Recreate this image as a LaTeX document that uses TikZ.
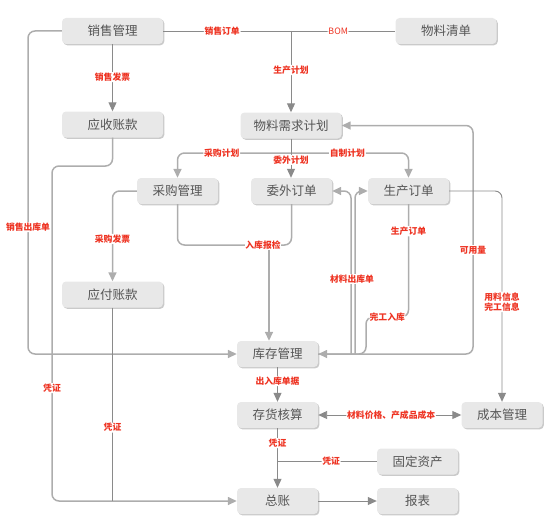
\documentclass[tikz,border=0pt]{standalone}
\usepackage{fontspec}
\setmainfont{Noto Sans CJK SC}
\usetikzlibrary{arrows.meta,shadows}
\definecolor{boxfill}{HTML}{E8E8E8}
\definecolor{boxtext}{HTML}{555555}
\definecolor{lnk}{HTML}{8A8A8A}
\definecolor{lnkl}{HTML}{ADADAD}
\definecolor{lblred}{HTML}{EE3322}
\begin{document}
\begin{tikzpicture}[x=1pt,y=-1pt,
  box/.style={rectangle, rounded corners=4pt, fill=boxfill, minimum width=101pt, minimum height=26pt, inner sep=0pt, text=boxtext, font=\fontsize{12.5}{14}\selectfont, drop shadow={shadow xshift=1.3pt, shadow yshift=-1.3pt, fill=black!35, opacity=0.6}},
  sbox/.style={box, minimum width=81pt},
  conn/.style={draw=lnk, line width=0.95pt, rounded corners=7pt},
  connl/.style={draw=lnkl, line width=1.5pt, rounded corners=7pt},
  arr/.style={-{Triangle[length=9pt,width=8pt]}},
  darr/.style={{Triangle[length=9pt,width=8pt]}-{Triangle[length=9pt,width=8pt]}},
  lbl/.style={fill=white, text=lblred, font=\fontsize{8.8}{10.5}\selectfont\bfseries, inner sep=0.8pt}
]
\useasboundingbox (0,0) rectangle (553,527);
\node[box] (xs) at (112.5,31) {销售管理};
\node[box] (wlqd) at (446,31) {物料清单};
\node[box] (ys) at (112.5,124.5) {应收账款};
\node[box] (mrp) at (291,125.5) {物料需求计划};
\node[sbox] (cg) at (177.5,191) {采购管理};
\node[sbox] (ww) at (291.5,191) {委外订单};
\node[sbox] (sc) at (408.5,191) {生产订单};
\node[box] (yf) at (112.5,294.5) {应付账款};
\node[sbox] (kc) at (277.5,354) {库存管理};
\node[sbox] (ch) at (277.5,415) {存货核算};
\node[sbox] (cb) at (502,415) {成本管理};
\node[sbox] (gd) at (417.5,461.5) {固定资产};
\node[sbox] (zz) at (277.5,501) {总账};
\node[sbox] (bb) at (417.5,501) {报表};
\coordinate (j1) at (291,31);
\coordinate (j2) at (291,153);
\coordinate (j3) at (269,245);
\coordinate (m1) at (351,354);
\coordinate (m2) at (355,354);
\coordinate (gj) at (277.5,461.5);
\coordinate (yj) at (112.5,501);
% top
\draw[conn] (xs.east) -- node[lbl,pos=0.254]{销售订单} node[lbl,pos=0.754,font=\fontsize{8.8}{10.5}\selectfont]{BOM} (wlqd.west);
\draw[conn,arr] (j1) -- node[lbl,pos=0.48]{生产计划} (mrp.north);
\draw[conn,arr] (xs.south) -- node[lbl,pos=0.49]{销售发票} (ys.north);
\draw[connl,arr] (xs.west) -- (28,31) -- node[lbl,pos=0.607]{销售出库单} (28,354) -- (kc.west);
\draw[connl,arr] (ys.south) -- (112.5,166) -- (52,166) -- node[lbl,pos=0.663]{凭证} (52,501) -- (zz.west);
% mrp
\draw[connl,arr] (j2) -- node[lbl,pos=0.61]{采购计划} (177.5,153) -- (cg.north);
\draw[connl,arr] (j2) -- node[lbl,pos=0.48]{自制计划} (408.5,153) -- (sc.north);
\draw[conn,arr] (mrp.south) -- node[lbl,pos=0.54]{委外计划} (ww.north -| mrp.south);
% purchase
\draw[connl,arr] (cg.west) -- (112.5,191) -- node[lbl,pos=0.53]{采购发票} (yf.north);
\draw[connl] (cg.south) -- (177.5,245) -- (j3);
\draw[connl] (ww.south) -- (291.5,245) -- (j3);
\draw[connl,arr] (j3) -- (kc.north -| j3);
\node[lbl] at (263,245) {入库报检};
% stock right side
\draw[connl,arr] (kc.east) -- (473,354) -- node[lbl,pos=0.455]{可用量} (473,125.5) -- (mrp.east);
\draw[connl,arr] (sc.south) -- node[lbl,pos=0.24]{生产订单} (408.5,317) -- node[lbl]{完工入库} (366,317) -- (366,354) -- (kc.east);
\draw[connl,arr] (m1) -- (351,191) -- (ww.east);
\draw[connl,arr] (m2) -- (355,191) -- (sc.west);
\node[lbl] at (352,279) {材料出库单};
\draw[conn,arr] (sc.east) -- (502,191) -- node[lbl,pos=0.526,align=center]{用料信息\\完工信息} (cb.north);
% bottom
\draw[conn,arr] (kc.south) -- node[lbl,pos=0.4]{出入库单据} (ch.north);
\draw[conn,darr] (ch.east) -- node[lbl,pos=0.51]{材料价格、产成品成本} (cb.west);
\draw[conn,arr] (ch.south) -- node[lbl,pos=0.25]{凭证} (zz.north);
\draw[conn] (gd.west) -- node[lbl,pos=0.46]{凭证} (gj);
\draw[conn] (yf.south) -- node[lbl,pos=0.62]{凭证} (yj);
\draw[conn,arr] (zz.east) -- (bb.west);
\end{tikzpicture}
\end{document}
